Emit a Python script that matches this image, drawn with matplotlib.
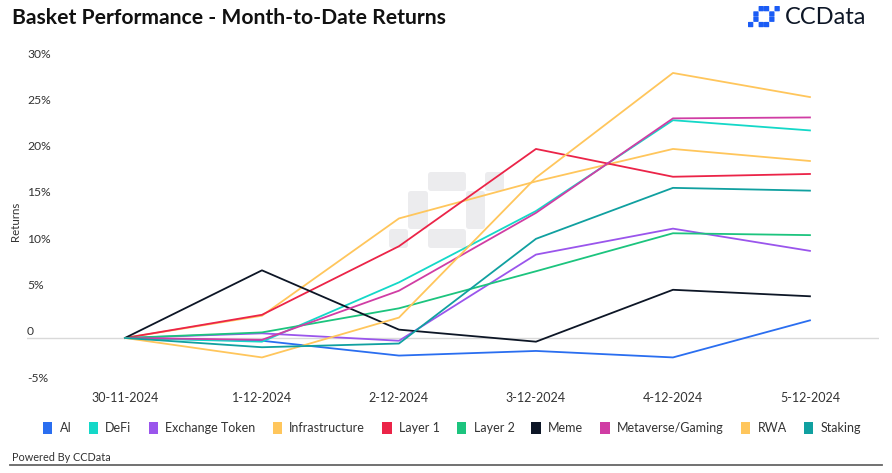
import matplotlib
matplotlib.use("Agg")
import matplotlib.pyplot as plt
from matplotlib.patches import Patch, FancyBboxPatch
from matplotlib.lines import Line2D
import matplotlib.transforms as mtransforms

# ---- data ----
dates = ["30-11-2024", "1-12-2024", "2-12-2024", "3-12-2024", "4-12-2024", "5-12-2024"]
ai = [0.0, -0.3, -1.9, -1.4, -2.1, 1.9]
defi = [0.0, -0.4, 6.0, 13.7, 23.5, 22.4]
exchange_token = [0.0, 0.5, -0.3, 9.0, 11.8, 9.4]
infrastructure = [0.0, 2.4, 12.9, 16.9, 20.4, 19.1]
layer1 = [0.0, 2.5, 9.9, 20.4, 17.4, 17.7]
layer2 = [0.0, 0.6, 3.2, 7.2, 11.3, 11.1]
meme = [0.0, 7.3, 0.9, -0.4, 5.2, 4.5]
metaverse = [0.0, -0.2, 5.1, 13.5, 23.7, 23.8]
rwa = [0.0, -2.1, 2.2, 17.3, 28.6, 26.0]
staking = [0.0, -1.0, -0.6, 10.7, 16.2, 15.9]

series_names = ["AI", "DeFi", "Exchange Token", "Infrastructure", "Layer 1",
                "Layer 2", "Meme", "Metaverse/Gaming", "RWA", "Staking"]
series_values = [ai, defi, exchange_token, infrastructure, layer1,
                 layer2, meme, metaverse, rwa, staking]
colors = ["#2a6ef0", "#14d8c8", "#9a55ec", "#ffc65c", "#eb2448",
          "#1cc47e", "#0d1626", "#d03da4", "#ffc65c", "#10a0a0"]

yticks = [-5, 0, 5, 10, 15, 20, 25, 30]
ytick_labels = ["-5%", "0", "5%", "10%", "15%", "20%", "25%", "30%"]

# ---- figure ----
W, H = 892, 473
plt.rcParams['font.family'] = ['Lato', 'DejaVu Sans']
fig = plt.figure(figsize=(W / 100, H / 100), dpi=100)

ident = mtransforms.IdentityTransform()


def add_block(x0, y0, x1, y1, color, r=2.5, z=-1):
    p = FancyBboxPatch((x0 + r, H - y1 + r), (x1 - x0) - 2 * r, (y1 - y0) - 2 * r,
                       boxstyle=f"round,pad={r}", transform=ident,
                       facecolor=color, edgecolor='none', zorder=z)
    fig.add_artist(p)


def add_logo(x, y, c, color, r):
    cells = [(2, 0), (3, 0), (5, 0), (1, 1), (1, 2), (4, 1), (4, 2), (2, 3), (3, 3), (0, 3)]
    for (i, j) in cells:
        add_block(x + i * c, y + j * c, x + (i + 1) * c, y + (j + 1) * c, color, r=r)


# watermark in the plot
wm = "#ececee"
add_block(428, 172, 466, 191, wm, r=3)
add_block(408, 191, 428, 229, wm, r=3)
add_block(466, 191, 485, 229, wm, r=3)
add_block(428, 229, 466, 248, wm, r=3)
add_block(485, 172, 504, 191, wm, r=3)
add_block(389, 229, 408, 248, wm, r=3)

# top-right logo icon
add_logo(748, 6, 5.3, "#1b5cf5", 0.6)

ax = fig.add_axes([27 / W, 1 - 384.3 / H, (879 - 27) / W, (384.3 - 60) / H])
ax.patch.set_alpha(0)

x = list(range(len(dates)))
for name, vals, col in zip(series_names, series_values, colors):
    ax.plot(x, vals, color=col, lw=1.3, label=name, zorder=3)

ax.axhline(0, color="#d9d9d9", lw=1, zorder=1)
ax.set_xlim(-0.715, 5.504)
ax.set_ylim(-5, 30)
for s in ax.spines.values():
    s.set_visible(False)

ax.set_xticks(x)
ax.set_xticklabels(dates, fontsize=9, color="#333333")
ax.tick_params(axis='x', length=0, pad=5.5)

ax.set_yticks(yticks)
ax.set_yticklabels(ytick_labels, fontsize=8.7, color="#333333")
ax.tick_params(axis='y', length=0, pad=0)
off = mtransforms.ScaledTranslation(0, 7 / 100, fig.dpi_scale_trans)
for lab in ax.get_yticklabels():
    lab.set_horizontalalignment('left')
    lab.set_transform(lab.get_transform() + off)

fig.text(15 / W, 1 - 221 / H, "Returns", rotation=90, fontsize=8.3, color="#333333",
         ha='center', va='center')

# title & brand
fig.text(12 / W, 1 - 18 / H, "Basket Performance - Month-to-Date Returns",
         fontsize=15.2, fontweight='bold', color="#111111", va='center')
fig.text(785 / W, 1 - 18 / H, "CCData", fontsize=17, color="#0d1626", va='center')

# legend
handles = [Patch(facecolor=c, edgecolor='none', label=n) for n, c in zip(series_names, colors)]
fig.legend(handles=handles, loc='center', bbox_to_anchor=(452 / W, 1 - 428 / H), ncol=10,
           frameon=False, fontsize=9, handlelength=0.75, handleheight=1.2,
           handletextpad=0.6, columnspacing=1.35, labelcolor="#333333")

fig.text(12 / W, 1 - 457 / H, "Powered By CCData", fontsize=7.8, color="#333333", va='center')
fig.add_artist(Line2D([10 / W, 882 / W], [1 - 465 / H, 1 - 465 / H], color="#666666", lw=1.3))

fig.savefig("out.png", dpi=100)
